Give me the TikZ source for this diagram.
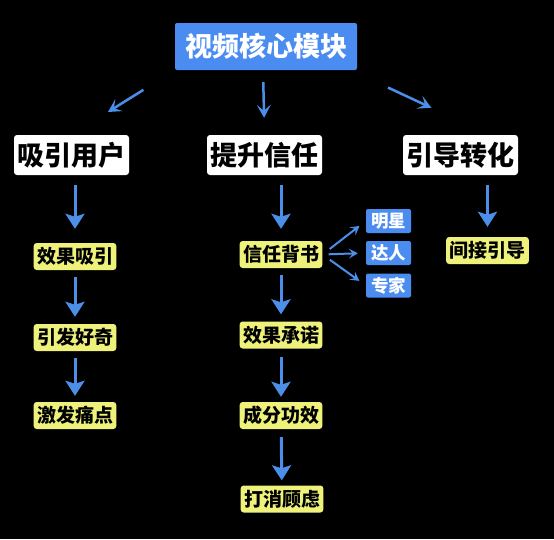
\documentclass[tikz,border=0pt]{standalone}
\usepackage{fontspec}
\newfontfamily\cjk{Noto Sans CJK SC Black}
\usetikzlibrary{arrows.meta,calc}
\definecolor{boxblue}{HTML}{4A8CF0}
\definecolor{boxyellow}{HTML}{EEF27A}
\definecolor{arrblue}{HTML}{4B8FE8}
\tikzset{
  topbox/.style={fill=boxblue, text=white, rounded corners=2pt, minimum width=182pt, minimum height=47pt,
    font=\cjk\fontsize{27}{27}\selectfont},
  headbox/.style={fill=white, text=black, rounded corners=3pt, minimum width=115pt, minimum height=40pt,
    font=\cjk\fontsize{27}{27}\selectfont},
  stepbox/.style={fill=boxyellow, text=black, rounded corners=3pt, minimum width=82pt, minimum height=27pt,
    font=\cjk\fontsize{19}{19}\selectfont},
  tagbox/.style={fill=boxblue, text=white, rounded corners=2pt, minimum width=45pt, minimum height=24pt,
    font=\cjk\fontsize{17.5}{17.5}\selectfont},
  arr/.style={draw=arrblue, line width=3pt, -{Stealth[width=19pt,length=15pt,inset=3pt]}},
  toparr/.style={draw=arrblue, line width=2.5pt, -{Stealth[width=14pt,length=13pt,inset=6pt]}},
  tagarr/.style={draw=arrblue, line width=2pt, -{Stealth[width=10pt,length=9pt,inset=4pt]}}
}
\begin{document}
\begin{tikzpicture}[x=1pt,y=-1pt]
  % background
  \fill[black] (0,0) rectangle (554,539);
  \useasboundingbox (0,0) rectangle (554,539);
  % top and heads
  \node[topbox] (core) at (266,46.5) {视频核心模块};
  \node[headbox] (attract) at (71.5,155) {吸引用户};
  \node[headbox] (trust) at (264.5,155) {提升信任};
  \node[headbox] (convert) at (460.5,155) {引导转化};
  % left column
  \node[stepbox] (a1) at (75,256.5) {效果吸引};
  \node[stepbox] (a2) at (75,337.5) {引发好奇};
  \node[stepbox] (a3) at (75,415.5) {激发痛点};
  % middle column
  \node[stepbox] (b1) at (281,254.5) {信任背书};
  \node[stepbox] (b2) at (281,335) {效果承诺};
  \node[stepbox] (b3) at (281,415.5) {成分功效};
  \node[stepbox] (b4) at (282,499) {打消顾虑};
  % endorsement tags
  \node[tagbox] (s1) at (388.5,221) {明星};
  \node[tagbox] (s2) at (388.5,253) {达人};
  \node[tagbox] (s3) at (388.5,285.5) {专家};
  % right column
  \node[stepbox] (c1) at (487.5,250.5) {间接引导};
  % arrows from the top
  \draw[toparr, shorten <=37pt, shorten >=43pt] (core.south west) -- (attract.north);
  \draw[toparr, shorten <=12pt, shorten >=17pt] ([xshift=-3pt]core.south) -- (trust.north);
  \draw[toparr, shorten <=34pt, shorten >=64pt] ([yshift=-3pt]core.south east) -- ($(convert.north)!.5!(convert.north east)$);
  % arrows down to the steps
  \draw[arr, shorten <=10pt, shorten >=14pt] (a1.north |- attract.south) -- (a1.north);
  \draw[arr, shorten <=10pt, shorten >=12pt] (b1.north |- trust.south) -- (b1.north);
  \draw[arr, shorten <=10pt, shorten >=10pt] (c1.north |- convert.south) -- (c1.north);
  \draw[arr, shorten <=7pt, shorten >=7pt] (a1) -- (a2);
  \draw[arr, shorten <=7pt, shorten >=6pt] (a2) -- (a3);
  \draw[arr, shorten <=7pt, shorten >=7pt] (b1) -- (b2);
  \draw[arr, shorten <=8pt, shorten >=5pt] (b2) -- (b3);
  \draw[arr, shorten <=8pt, shorten >=5pt] (b3) -- (b4);
  % arrows to the tags
  \draw[tagarr, shorten <=9pt, shorten >=8pt] (b1.east) -- (s1.west);
  \draw[tagarr, shorten <=6pt, shorten >=8pt] (b1.east) -- (s2.west);
  \draw[tagarr, shorten <=9pt, shorten >=8pt] (b1.east) -- (s3.west);
\end{tikzpicture}
\end{document}
